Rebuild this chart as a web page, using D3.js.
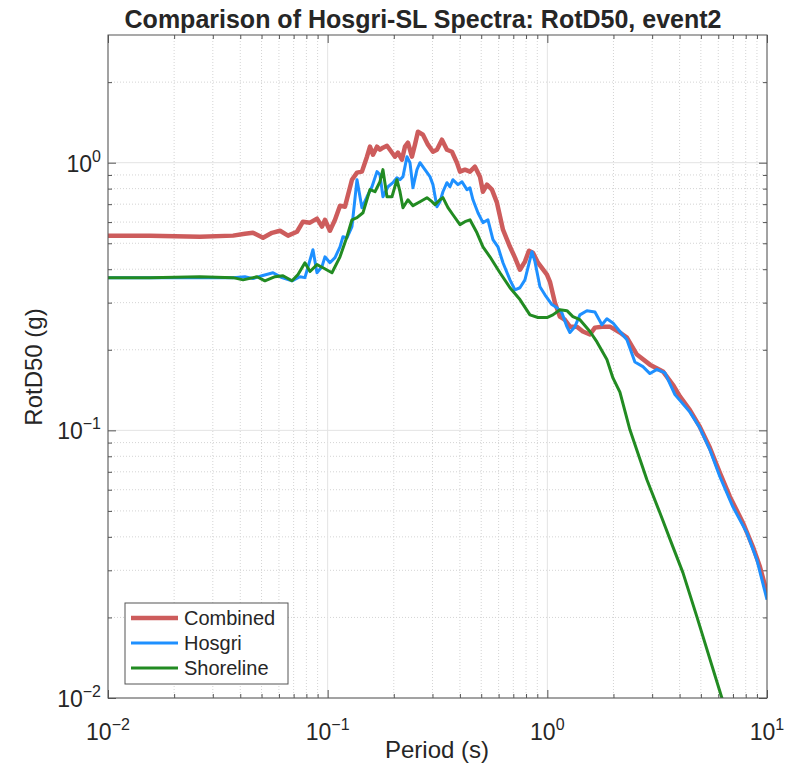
<!DOCTYPE html>
<html>
<head>
<meta charset="utf-8">
<script src="https://cdn.jsdelivr.net/npm/d3@7"></script>
<style>
  body { margin: 0; background: #fff; }
  text { font-family: "Liberation Sans", Arial, sans-serif; fill: #262626; }
</style>
</head>
<body>
<svg id="chart" width="789" height="770"></svg>
<script>
// values: [period (s), RotD50 (g)]
var combined = [[0.01,0.534],[0.0155,0.534],[0.0262,0.529],[0.0371,0.534],[0.042,0.543],[0.0457,0.547],[0.0508,0.524],[0.0558,0.547],[0.0607,0.557],[0.066,0.534],[0.0725,0.552],[0.0772,0.602],[0.0831,0.597],[0.0894,0.618],[0.0942,0.577],[0.0972,0.612],[0.1024,0.557],[0.108,0.612],[0.1138,0.691],[0.1199,0.685],[0.129,0.864],[0.136,0.918],[0.1432,0.926],[0.151,1.053],[0.1558,1.148],[0.1608,1.071],[0.1677,1.148],[0.173,1.118],[0.1785,1.138],[0.1862,1.157],[0.1921,1.118],[0.2025,1.053],[0.2089,1.09],[0.2178,1.026],[0.2248,1.148],[0.232,1.188],[0.2419,1.053],[0.2497,1.168],[0.2576,1.306],[0.2715,1.272],[0.2861,1.168],[0.3015,1.099],[0.3144,1.118],[0.3313,1.219],[0.3491,1.118],[0.3679,1.099],[0.3877,1.0],[0.4002,0.926],[0.4217,0.942],[0.4444,0.926],[0.4683,0.966],[0.4935,0.887],[0.5092,0.779],[0.5311,0.828],[0.5596,0.793],[0.5897,0.709],[0.6282,0.562],[0.6759,0.485],[0.7122,0.442],[0.7505,0.398],[0.7907,0.427],[0.8246,0.469],[0.8602,0.461],[0.9062,0.423],[0.9958,0.382],[1.028,0.359],[1.083,0.300],[1.141,0.266],[1.202,0.259],[1.267,0.244],[1.363,0.244],[1.452,0.234],[1.563,0.228],[1.647,0.242],[1.772,0.244],[1.927,0.244],[2.14,0.232],[2.303,0.222],[2.557,0.192],[2.931,0.176],[3.359,0.166],[3.73,0.148],[4.013,0.134],[4.458,0.119],[4.949,0.103],[5.496,0.0861],[6.103,0.0694],[6.777,0.0565],[7.768,0.0452],[8.626,0.0367],[9.284,0.0309],[10,0.0247]];

var hosgri = [[0.01,0.372],[0.0155,0.372],[0.0262,0.372],[0.0371,0.372],[0.042,0.375],[0.0457,0.369],[0.0502,0.378],[0.0564,0.388],[0.0619,0.372],[0.0688,0.362],[0.0748,0.375],[0.0788,0.372],[0.0857,0.473],[0.0894,0.388],[0.0942,0.409],[0.0972,0.445],[0.1024,0.423],[0.108,0.442],[0.1138,0.485],[0.1174,0.529],[0.1224,0.524],[0.129,0.577],[0.136,0.864],[0.1432,0.679],[0.151,0.746],[0.1591,0.813],[0.1677,0.926],[0.173,0.902],[0.1785,0.746],[0.1882,0.813],[0.1982,0.842],[0.2067,0.879],[0.2134,0.864],[0.2202,0.887],[0.2296,1.053],[0.237,1.0],[0.2445,0.806],[0.255,0.942],[0.2632,1.0],[0.2773,0.942],[0.2922,0.887],[0.3015,0.828],[0.3144,0.685],[0.3244,0.715],[0.3348,0.779],[0.3491,0.842],[0.3604,0.813],[0.3718,0.864],[0.3918,0.828],[0.4087,0.849],[0.4306,0.793],[0.4444,0.806],[0.4586,0.727],[0.4832,0.650],[0.5092,0.597],[0.5366,0.612],[0.5655,0.516],[0.5959,0.485],[0.6282,0.423],[0.6759,0.365],[0.7122,0.335],[0.7505,0.341],[0.7907,0.365],[0.8333,0.434],[0.8511,0.465],[0.8783,0.427],[0.9254,0.344],[0.9752,0.321],[1.049,0.295],[1.106,0.287],[1.165,0.275],[1.228,0.244],[1.267,0.232],[1.335,0.244],[1.407,0.270],[1.514,0.280],[1.647,0.277],[1.772,0.248],[1.867,0.261],[1.989,0.252],[2.14,0.234],[2.303,0.218],[2.504,0.180],[2.723,0.173],[2.931,0.163],[3.155,0.169],[3.43,0.164],[3.81,0.136],[4.458,0.117],[4.949,0.102],[5.496,0.0846],[6.103,0.0671],[6.993,0.0518],[8.1,0.0414],[8.995,0.0328],[10,0.0233]];

var shoreline = [[0.01,0.372],[0.0155,0.372],[0.0262,0.375],[0.0371,0.372],[0.0412,0.365],[0.0477,0.375],[0.0518,0.362],[0.0576,0.375],[0.0626,0.378],[0.0688,0.362],[0.0733,0.382],[0.0788,0.423],[0.0831,0.392],[0.0894,0.416],[0.0952,0.405],[0.1046,0.388],[0.1138,0.445],[0.1224,0.529],[0.129,0.612],[0.136,0.623],[0.1448,0.650],[0.1558,0.793],[0.1642,0.779],[0.173,0.849],[0.1785,0.942],[0.1862,0.746],[0.1962,0.746],[0.2067,0.864],[0.2134,0.779],[0.2202,0.679],[0.232,0.727],[0.2445,0.691],[0.2632,0.715],[0.2831,0.740],[0.2984,0.715],[0.308,0.697],[0.3244,0.727],[0.3348,0.740],[0.3529,0.679],[0.3718,0.639],[0.4002,0.587],[0.4217,0.602],[0.4444,0.612],[0.4782,0.547],[0.5092,0.485],[0.5479,0.445],[0.6086,0.388],[0.6759,0.341],[0.7505,0.308],[0.8333,0.270],[0.9062,0.264],[0.9958,0.264],[1.06,0.270],[1.141,0.282],[1.228,0.280],[1.307,0.266],[1.407,0.259],[1.563,0.234],[1.682,0.214],[1.867,0.184],[1.989,0.157],[2.14,0.139],[2.377,0.1005],[2.84,0.0654],[3.254,0.0492],[3.73,0.0367],[4.142,0.0294],[4.797,0.0201],[6.232,0.01],[10,0.0028]];

var seriesNames = ["Combined", "Hosgri", "Shoreline"];
var seriesColors = ["#cd5c5c", "#1e90ff", "#228b22"];
var seriesWidths = [4.5, 3, 3];
var xMajor = [0.01, 0.1, 1, 10];
var yMajor = [0.01, 0.1, 1];

var svg = d3.select("#chart");
var pLeft = 108, pRight = 767, pTop = 35, pBottom = 698;

var x = d3.scaleLog().domain([0.01, 10]).range([pLeft, pRight]);
var y = d3.scaleLog().domain([0.01, 3]).range([pBottom, pTop]);

// minor positions: 2..9 in each decade
var xMinor = [], yMinor = [];
[0.01, 0.1, 1].forEach(function (d) {
  for (var k = 2; k <= 9; k++) xMinor.push(d * k);
});
[0.01, 0.1, 1].forEach(function (d) {
  for (var k = 2; k <= 9; k++) if (d * k < 3) yMinor.push(d * k);
});

var grid = svg.append("g");
grid.selectAll(".xmin").data(xMinor).enter().append("line")
  .attr("x1", function (d) { return x(d); }).attr("x2", function (d) { return x(d); })
  .attr("y1", pTop).attr("y2", pBottom)
  .attr("stroke", "#d4d4d4").attr("stroke-dasharray", "1,2");
grid.selectAll(".ymin").data(yMinor).enter().append("line")
  .attr("y1", function (d) { return y(d); }).attr("y2", function (d) { return y(d); })
  .attr("x1", pLeft).attr("x2", pRight)
  .attr("stroke", "#d4d4d4").attr("stroke-dasharray", "1,2");
grid.selectAll(".xmaj").data(xMajor).enter().append("line")
  .attr("x1", function (d) { return x(d); }).attr("x2", function (d) { return x(d); })
  .attr("y1", pTop).attr("y2", pBottom)
  .attr("stroke", "#e3e3e3");
grid.selectAll(".ymaj").data(yMajor).enter().append("line")
  .attr("y1", function (d) { return y(d); }).attr("y2", function (d) { return y(d); })
  .attr("x1", pLeft).attr("x2", pRight)
  .attr("stroke", "#e3e3e3");

// ticks on all four sides, pointing inward
function ticks(axisFn, scale, vals, len, tr) {
  var g = svg.append("g").attr("transform", tr)
    .call(axisFn(scale).tickValues(vals).tickSize(len).tickFormat(""));
  g.select(".domain").remove();
  g.selectAll("line").attr("stroke", "#555");
  return g;
}
ticks(d3.axisBottom, x, xMajor, -8, "translate(0," + pBottom + ")");
ticks(d3.axisBottom, x, xMinor, -4, "translate(0," + pBottom + ")");
ticks(d3.axisTop, x, xMajor, -8, "translate(0," + pTop + ")");
ticks(d3.axisTop, x, xMinor, -4, "translate(0," + pTop + ")");
ticks(d3.axisLeft, y, yMajor, -8, "translate(" + pLeft + ",0)");
ticks(d3.axisLeft, y, yMinor, -4, "translate(" + pLeft + ",0)");
ticks(d3.axisRight, y, yMajor, -8, "translate(" + pRight + ",0)");
ticks(d3.axisRight, y, yMinor, -4, "translate(" + pRight + ",0)");

// tick labels 10^n
function expLabel(sel, v) {
  var e = Math.round(Math.log10(v));
  sel.append("tspan").text("10");
  sel.append("tspan").attr("dy", -10).attr("font-size", 16)
    .text(e < 0 ? "\u2212" + (-e) : String(e));
}
xMajor.forEach(function (v) {
  var t = svg.append("text").attr("x", x(v)).attr("y", 740)
    .attr("text-anchor", "middle").attr("font-size", 23);
  expLabel(t, v);
});
yMajor.forEach(function (v) {
  var t = svg.append("text").attr("x", 101).attr("y", y(v) + 9)
    .attr("text-anchor", "end").attr("font-size", 23);
  expLabel(t, v);
});

// series
svg.append("clipPath").attr("id", "clip").append("rect")
  .attr("x", pLeft).attr("y", pTop).attr("width", pRight - pLeft).attr("height", pBottom - pTop);

var line = d3.line().x(function (d) { return x(d[0]); }).y(function (d) { return y(d[1]); });
var allSeries = [combined, hosgri, shoreline];
svg.append("g").attr("clip-path", "url(#clip)")
  .selectAll("path").data(allSeries).enter().append("path")
  .attr("d", line)
  .attr("fill", "none")
  .attr("stroke", function (d, i) { return seriesColors[i]; })
  .attr("stroke-width", function (d, i) { return seriesWidths[i]; })
  .attr("stroke-linejoin", "round");

// frame
svg.append("rect").attr("x", pLeft).attr("y", pTop)
  .attr("width", pRight - pLeft).attr("height", pBottom - pTop)
  .attr("fill", "none").attr("stroke", "#555");

// legend
var lg = svg.append("g");
lg.append("rect").attr("x", 125).attr("y", 603).attr("width", 163).attr("height", 81)
  .attr("fill", "#fff").attr("stroke", "#555");
seriesNames.forEach(function (n, i) {
  var yy = 618 + i * 25;
  lg.append("line").attr("x1", 131).attr("x2", 178).attr("y1", yy).attr("y2", yy)
    .attr("stroke", seriesColors[i]).attr("stroke-width", seriesWidths[i]);
  lg.append("text").attr("x", 184).attr("y", yy).attr("dy", "0.36em")
    .attr("font-size", 20).text(n);
});

// titles
svg.append("text").attr("x", 423).attr("y", 28).attr("text-anchor", "middle")
  .attr("font-size", 25).attr("font-weight", "bold")
  .text("Comparison of Hosgri-SL Spectra: RotD50, event2");
svg.append("text").attr("x", 437).attr("y", 758).attr("text-anchor", "middle")
  .attr("font-size", 24).text("Period (s)");
svg.append("text").attr("transform", "translate(42,367) rotate(-90)")
  .attr("text-anchor", "middle").attr("font-size", 24).text("RotD50 (g)");
</script>
</body>
</html>
